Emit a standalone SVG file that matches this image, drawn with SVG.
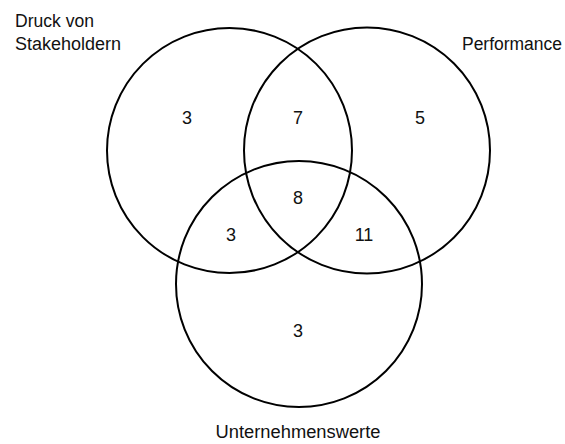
<svg xmlns="http://www.w3.org/2000/svg" width="565" height="444" viewBox="0 0 565 444">
<style>
.c{fill:none;stroke:#000;stroke-width:2}
.t{font-family:"Liberation Sans",Arial,sans-serif;font-size:18px;fill:#111}
.n{font-family:"Liberation Sans",Arial,sans-serif;font-size:18px;fill:#111;text-anchor:middle}
</style>
<rect width="565" height="444" fill="#fff"/>
<g id="set-druck">
<circle class="c" cx="229.5" cy="150.5" r="122.5"/>
<text class="t" x="15" y="27" textLength="79" lengthAdjust="spacingAndGlyphs">Druck von</text>
<text class="t" x="15" y="50" textLength="106" lengthAdjust="spacingAndGlyphs">Stakeholdern</text>
</g>
<g id="set-performance">
<circle class="c" cx="367" cy="150.5" r="123"/>
<text class="t" x="462" y="50" textLength="100" lengthAdjust="spacingAndGlyphs">Performance</text>
</g>
<g id="set-unternehmenswerte">
<circle class="c" cx="299" cy="284" r="123"/>
<text class="t" x="298" y="438" text-anchor="middle" textLength="165" lengthAdjust="spacingAndGlyphs">Unternehmenswerte</text>
</g>
<g id="counts">
<text class="n" x="187" y="124">3</text>
<text class="n" x="298" y="124">7</text>
<text class="n" x="420" y="124">5</text>
<text class="n" x="298" y="204">8</text>
<text class="n" x="231" y="241">3</text>
<text class="n" x="364" y="241">11</text>
<text class="n" x="298" y="337">3</text>
</g>
<g id="connectors"></g>
</svg>
